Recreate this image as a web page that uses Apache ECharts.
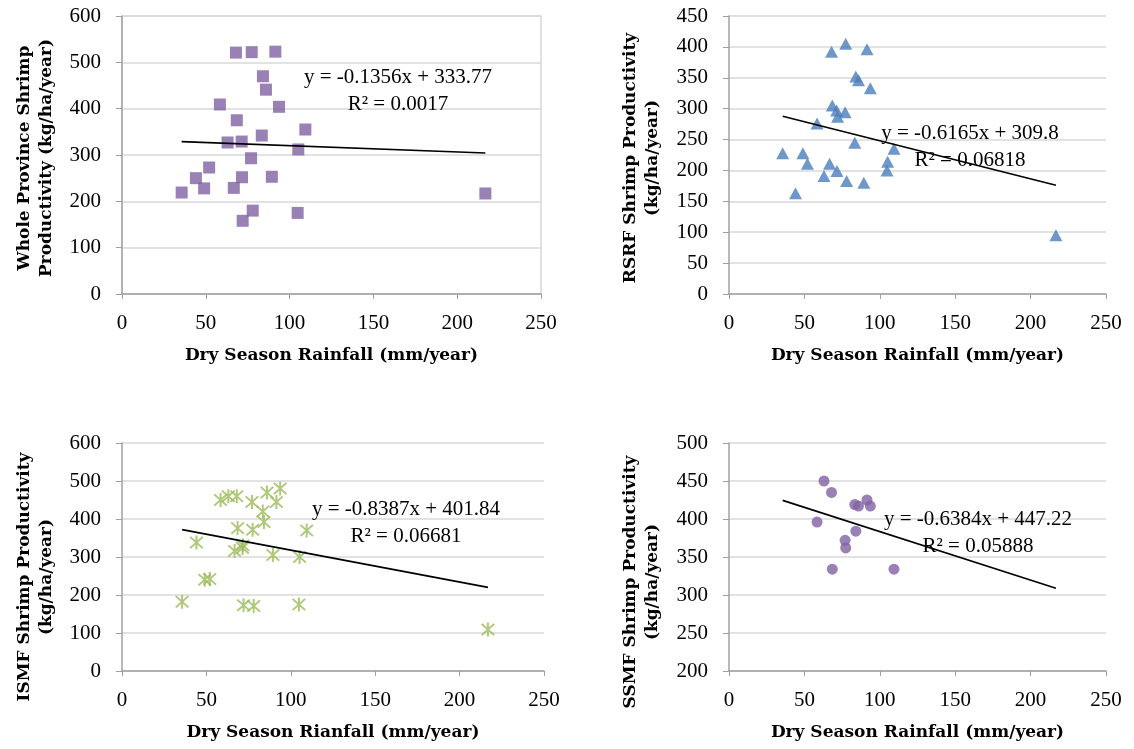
<!DOCTYPE html>
<html>
<head>
<meta charset="utf-8">
<script src="https://cdn.jsdelivr.net/npm/echarts@6/dist/echarts.min.js"></script>
<style>
  html, body { margin: 0; padding: 0; background: #fff; }
  #chart { width: 1134px; height: 749px; }
</style>
</head>
<body>
<div id="chart"></div>
<script>
// Dry season rainfall (mm/year) for each year of record
const rainfall = [35.6, 44.1, 49.0, 52.0, 58.4, 63.0, 66.7, 68.0, 68.5, 71.4, 71.6, 72.0, 77.0,
                  77.4, 78.0, 83.4, 84.1, 85.9, 89.4, 91.5, 93.7, 104.8, 105.2, 109.4, 216.8];

// Shrimp productivity (kg/ha/year), same year order as rainfall
const wholeProvince = [219, 250, 228, 273, 409, 327, 229, 521, 375, 329, 252, 158, 293,
                       522, 180, 342, 470, 441, 253, 523, 404, 175, 312, 355, 217];
const rsrf = [228, 163, 228, 211, 276, 191, 211, 392, 305, 297, 199, 287, 294,
              405, 183, 245, 352, 346, 180, 396, 333, 200, 214, 235, 95];
const ismf = [182, 338, 240, 242, 450, 460, 316, 460, 376, 324, 331, 173, 445,
              372, 171, 420, 392, 470, 305, 445, 480, 175, 300, 370, 109];

// SSMF only has records for some years
const ssmfRainfall = [58.4, 63.0, 68.0, 68.5, 77.0, 77.4, 83.4, 84.1, 85.9, 91.5, 93.7, 109.4];
const ssmf = [396, 450, 435, 334, 372, 362, 419, 384, 417, 425, 417, 334];

// Linear fits: slope, intercept, R²
const fitSlope = [-0.1356, -0.6165, -0.8387, -0.6384];
const fitIntercept = [333.77, 309.8, 401.84, 447.22];
const fitR2 = ['0.0017', '0.06818', '0.06681', '0.05888'];

// Axis ranges
const xTicks = { min: 0, max: 250, interval: 50 };
const yRanges = [
  { min: 0, max: 600, interval: 100 },
  { min: 0, max: 450, interval: 50 },
  { min: 0, max: 600, interval: 100 },
  { min: 200, max: 500, interval: 50 }
];

const yTitles = [
  'Whole Province Shrimp\nProductivity (kg/ha/year)',
  'RSRF Shrimp Productivity\n(kg/ha/year)',
  'ISMF Shrimp Productivity\n(kg/ha/year)',
  'SSMF Shrimp Productivity\n(kg/ha/year)'
];
const xTitles = [
  'Dry Season Rainfall (mm/year)',
  'Dry Season Rainfall (mm/year)',
  'Dry Season Rianfall (mm/year)',
  'Dry Season Rainfall (mm/year)'
];

const SERIF = '"Liberation Serif", "Times New Roman", serif';
const SERIF_BOLD = '"DejaVu Serif", serif';

// six-armed asterisk marker
const asterisk = 'path://M8.8,0.5L11.2,0.5L11.2,19.5L8.8,19.5Z' +
                 'M1.5,3.2L3.2,1.5L18.5,16.8L16.8,18.5Z' +
                 'M16.8,1.5L18.5,3.2L3.2,18.5L1.5,16.8Z';

const grids = [
  { left: 122, top: 16, width: 419, height: 278, show: true, borderColor: '#c4c4c4', borderWidth: 1, backgroundColor: 'transparent' },
  { left: 729, top: 16, width: 377, height: 278 },
  { left: 122, top: 443, width: 422, height: 228 },
  { left: 729, top: 443, width: 377, height: 228 }
];

const xAxes = grids.map((g, i) => ({
  type: 'value', gridIndex: i,
  min: xTicks.min, max: xTicks.max, interval: xTicks.interval,
  name: xTitles[i], nameLocation: 'middle', nameGap: 53,
  nameTextStyle: { fontFamily: SERIF_BOLD, fontWeight: 'bold', fontSize: 17, color: '#000' },
  axisLine: { show: true, onZero: false, lineStyle: { color: '#a0a0a0', width: 1.5 } },
  axisTick: { show: true, inside: false, length: 5, lineStyle: { color: '#a0a0a0' } },
  axisLabel: { fontFamily: SERIF, fontSize: 21, color: '#000', margin: 19 },
  splitLine: { show: false }
}));

const yAxes = grids.map((g, i) => ({
  type: 'value', gridIndex: i,
  min: yRanges[i].min, max: yRanges[i].max, interval: yRanges[i].interval,
  axisLine: { show: true, onZero: false, lineStyle: { color: '#a0a0a0', width: 1.5 } },
  axisTick: { show: true, inside: false, length: 6, lineStyle: { color: '#a0a0a0' } },
  axisLabel: { fontFamily: SERIF, fontSize: 21, color: '#000', margin: 21 },
  splitLine: { show: true, lineStyle: { color: '#d9d9d9', width: 1.5 } }
}));

const zip = (xs, ys) => xs.map((x, k) => [x, ys[k]]);
const xMin = Math.min(...rainfall);
const xMax = Math.max(...rainfall);
const trend = i => [
  [xMin, fitSlope[i] * xMin + fitIntercept[i]],
  [xMax, fitSlope[i] * xMax + fitIntercept[i]]
];

const series = [
  { type: 'scatter', xAxisIndex: 0, yAxisIndex: 0, data: zip(rainfall, wholeProvince),
    symbol: 'rect', symbolSize: 12, itemStyle: { color: '#7f62a3' } },
  { type: 'scatter', xAxisIndex: 1, yAxisIndex: 1, data: zip(rainfall, rsrf),
    symbol: 'triangle', symbolSize: [13, 12], itemStyle: { color: '#4a7ebb' } },
  { type: 'scatter', xAxisIndex: 2, yAxisIndex: 2, data: zip(rainfall, ismf),
    symbol: asterisk, symbolSize: 14, itemStyle: { color: '#9bbb59' } },
  { type: 'scatter', xAxisIndex: 3, yAxisIndex: 3, data: zip(ssmfRainfall, ssmf),
    symbol: 'circle', symbolSize: 11, itemStyle: { color: '#7f62a3' } }
];
for (let i = 0; i < 4; i++) {
  series.push({
    type: 'line', xAxisIndex: i, yAxisIndex: i, data: trend(i), z: 5,
    symbol: 'none', silent: true,
    lineStyle: { color: '#000', width: 1.6 }
  });
}

// Equation labels and rotated y-axis titles
const eqnPos = [[398, 77], [970, 133], [406, 509], [978, 519]];
const yTitlePos = [[36, 158], [642, 158], [36, 577], [642, 582]];
const graphics = [];
for (let i = 0; i < 4; i++) {
  const sign = fitIntercept[i] >= 0 ? '+' : '-';
  graphics.push({
    type: 'text', x: eqnPos[i][0], y: eqnPos[i][1], z: 10,
    style: {
      text: 'y = ' + String(fitSlope[i]) + 'x ' + sign + ' ' + String(Math.abs(fitIntercept[i])),
      font: '21px ' + SERIF, fill: '#000', align: 'center', verticalAlign: 'middle'
    }
  });
  graphics.push({
    type: 'text', x: eqnPos[i][0], y: eqnPos[i][1] + 27, z: 10,
    style: {
      text: 'R\u00b2 = ' + fitR2[i],
      font: '21px ' + SERIF, fill: '#000', align: 'center', verticalAlign: 'middle'
    }
  });
  graphics.push({
    type: 'text', x: yTitlePos[i][0], y: yTitlePos[i][1], rotation: Math.PI / 2, z: 10,
    style: {
      text: yTitles[i], font: 'bold 17px ' + SERIF_BOLD, fill: '#000',
      align: 'center', verticalAlign: 'middle', lineHeight: 22
    }
  });
}

const chart = echarts.init(document.getElementById('chart'), null, { renderer: 'canvas' });
chart.setOption({
  animation: false,
  backgroundColor: '#fff',
  grid: grids,
  xAxis: xAxes,
  yAxis: yAxes,
  series: series,
  graphic: graphics
});
</script>
</body>
</html>
